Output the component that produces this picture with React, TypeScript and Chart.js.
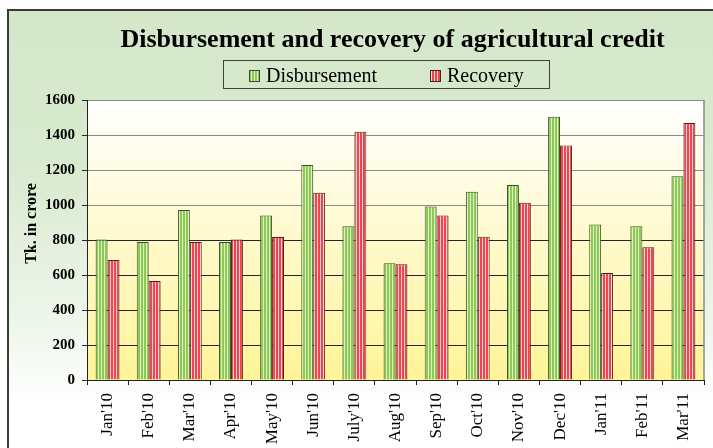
import React, { useEffect, useRef } from "react";
import { Chart, registerables } from "chart.js";

Chart.register(...registerables);

// ---------- data ----------
const categories = [
  "Jan'10", "Feb'10", "Mar'10", "Apr'10", "May'10", "Jun'10", "July'10", "Aug'10",
  "Sep'10", "Oct'10", "Nov'10", "Dec'10", "Jan'11", "Feb'11", "Mar'11",
];
const disbursement = [803, 789, 971, 789, 940, 1228, 878, 667, 992, 1076, 1114, 1505, 889, 878, 1165];
const recovery = [686, 566, 789, 803, 817, 1070, 1419, 661, 940, 819, 1013, 1340, 612, 758, 1469];
const seriesLabels = ["Disbursement", "Recovery"];
const chartTitle = "Disbursement and recovery of agricultural credit";
const yAxisTitle = "Tk. in crore";
const yMin = 0;
const yMax = 1600;
const yStep = 200;

const FONT = "'Liberation Serif', 'Times New Roman', serif";

function makeStripes(ctx: CanvasRenderingContext2D, colors: string[]) {
  const c = document.createElement("canvas");
  c.width = colors.length;
  c.height = 1;
  const g = c.getContext("2d")!;
  colors.forEach((col, i) => {
    g.fillStyle = col;
    g.fillRect(i, 0, 1, 1);
  });
  return ctx.createPattern(c, "repeat")!;
}

const decorPlugin = {
  id: "decor",
  beforeDraw(chart: any) {
    const { ctx, width, height, chartArea: a } = chart;
    ctx.save();
    ctx.fillStyle = "#ffffff";
    ctx.fillRect(0, 0, width, height);
    const g = ctx.createLinearGradient(0, 10, 0, height);
    g.addColorStop(0, "#d4e7c9");
    g.addColorStop(0.35, "#d8eacf");
    g.addColorStop(0.72, "#eef6eb");
    g.addColorStop(0.9, "#ffffff");
    ctx.fillStyle = g;
    ctx.fillRect(8, 10, width, height);
    ctx.strokeStyle = "#3a3a3a";
    ctx.lineWidth = 2;
    ctx.strokeRect(8, 10, width + 20, height + 20);
    const pg = ctx.createLinearGradient(0, a.top, 0, a.bottom);
    pg.addColorStop(0, "#ffffff");
    pg.addColorStop(1, "#fff497");
    ctx.fillStyle = pg;
    ctx.fillRect(a.left, a.top, a.right - a.left, a.bottom - a.top);
    ctx.restore();
  },
  afterDraw(chart: any) {
    const { ctx, chartArea: a } = chart;
    ctx.save();
    // right border of plot area
    ctx.strokeStyle = "#8a8a8a";
    ctx.lineWidth = 1.5;
    ctx.beginPath();
    ctx.moveTo(a.right, a.top);
    ctx.lineTo(a.right, a.bottom);
    ctx.stroke();

    // title
    ctx.fillStyle = "#000";
    ctx.font = `bold 26px ${FONT}`;
    ctx.textAlign = "center";
    ctx.textBaseline = "alphabetic";
    ctx.fillText(chartTitle, 392.5, 47);

    // legend frame
    ctx.strokeStyle = "#404040";
    ctx.lineWidth = 1;
    ctx.strokeRect(223.5, 60.5, 326, 28);
    const itemX = [249, 430];
    ctx.font = `20px ${FONT}`;
    ctx.textAlign = "left";
    chart.data.datasets.forEach((ds: any, i: number) => {
      const x = itemX[i];
      ctx.fillStyle = ds.backgroundColor;
      ctx.fillRect(x, 70, 11, 12);
      ctx.strokeStyle = ds.borderColor;
      ctx.lineWidth = 1;
      ctx.strokeRect(x + 0.5, 70.5, 10, 11);
      ctx.fillStyle = "#000";
      ctx.fillText(ds.label, x + 17, 82);
    });

    // y axis title
    ctx.save();
    ctx.translate(32, 223.5);
    ctx.rotate(-Math.PI / 2);
    ctx.font = `bold 16px ${FONT}`;
    ctx.textAlign = "center";
    ctx.textBaseline = "middle";
    ctx.fillStyle = "#000";
    ctx.fillText(yAxisTitle, 0, 0);
    ctx.restore();

    ctx.restore();
  },
};

export default function App() {
  const ref = useRef<HTMLCanvasElement>(null);

  useEffect(() => {
    const canvas = ref.current!;
    const ctx = canvas.getContext("2d")!;
    const greenPat = makeStripes(ctx, ["#8ec957", "#8ec957", "#dcf3bd"]);
    const redPat = makeStripes(ctx, ["#ef4550", "#ef4550", "#ffd0d0"]);

    const chart = new Chart(canvas, {
      type: "bar",
      data: {
        labels: categories,
        datasets: [
          {
            label: seriesLabels[0],
            data: disbursement,
            backgroundColor: greenPat as any,
            borderColor: "#3d4a2e",
            borderWidth: 1,
            categoryPercentage: 0.58,
            barPercentage: 1,
          },
          {
            label: seriesLabels[1],
            data: recovery,
            backgroundColor: redPat as any,
            borderColor: "#4a2424",
            borderWidth: 1,
            categoryPercentage: 0.58,
            barPercentage: 1,
          },
        ],
      },
      options: {
        responsive: false,
        animation: false,
        layout: { padding: { top: 100, left: 45, right: 9, bottom: 0 } },
        plugins: {
          legend: { display: false },
          title: { display: false },
          tooltip: { enabled: false },
        },
        scales: {
          x: {
            offset: true,
            afterFit: (s: any) => {
              s.height = 68;
            },
            grid: {
              offset: true,
              drawOnChartArea: false,
              drawTicks: true,
              tickLength: 5,
              color: "#222",
              lineWidth: 1,
            },
            border: { display: true, color: "#222", width: 1 },
            ticks: {
              minRotation: 90,
              maxRotation: 90,
              autoSkip: false,
              padding: 8,
              color: "#000",
              font: { family: FONT, size: 17 },
            },
          },
          y: {
            min: yMin,
            max: yMax,
            afterFit: (s: any) => {
              s.width = 42;
            },
            ticks: {
              stepSize: yStep,
              padding: 7,
              color: "#000",
              font: { family: FONT, size: 15, weight: "bold" },
              callback: (v: any) => String(v),
            },
            grid: {
              color: (c: any) => (c.tick && c.tick.value >= 1000 ? "#8a8a8a" : "#262626"),
              tickColor: "#262626",
              tickLength: 5,
              drawTicks: true,
              lineWidth: 1,
            },
            border: { display: true, color: "#222", width: 1 },
          },
        },
      },
      plugins: [decorPlugin],
    } as any);

    return () => chart.destroy();
  }, []);

  return (
    <div style={{ position: "absolute", left: 0, top: 0, width: 713, height: 448, overflow: "hidden" }}>
      <canvas ref={ref} width={713} height={448} style={{ display: "block" }} />
    </div>
  );
}
